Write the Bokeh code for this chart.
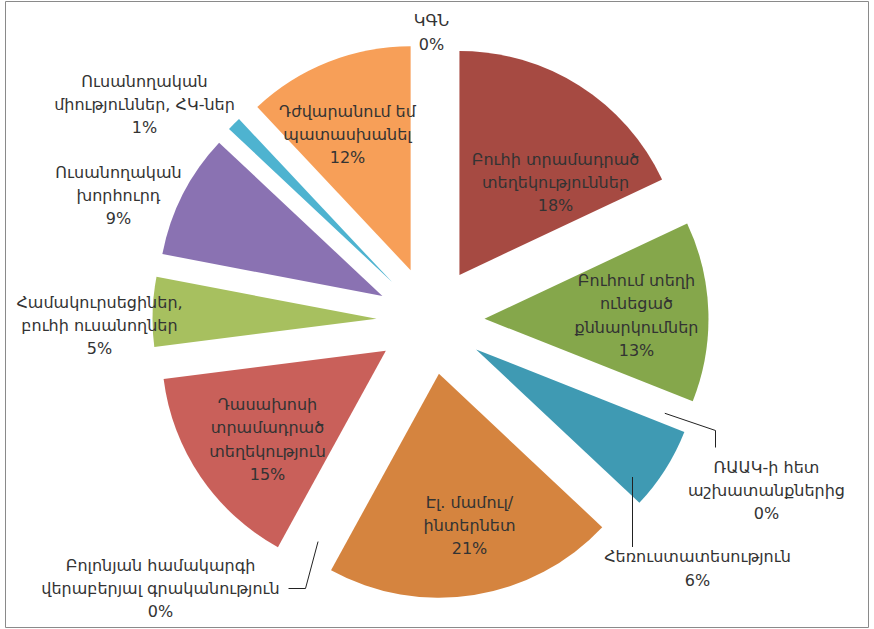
import math
from bokeh.plotting import figure
from bokeh.models import Range1d, ColumnDataSource
from bokeh.embed import file_html
from bokeh.resources import INLINE
from bokeh.core.properties import value

# ---------------- data ----------------
categories = [
    "Բուհի տրամադրած\nտեղեկություններ",
    "Բուհում տեղի\nունեցած\nքննարկումներ",
    "ՌԱԱԿ-ի հետ\nաշխատանքներից",
    "Հեռուստատեսություն",
    "Էլ. մամուլ/\nինտերնետ",
    "Բոլոնյան համակարգի\nվերաբերյալ գրականություն",
    "Դասախոսի\nտրամադրած\nտեղեկություն",
    "Համակուրսեցիներ,\nբուհի ուսանողներ",
    "Ուսանողական\nխորհուրդ",
    "Ուսանողական\nմիություններ, ՀԿ-ներ",
    "Դժվարանում եմ\nպատասխանել",
    "ԿԳՆ",
]
percents = [18, 13, 0, 6, 21, 0, 15, 5, 9, 1, 12, 0]
colors = ["#A64A42", "#85A74B", "#3F9AB3", "#3F9AB3", "#D5843F", "#C9605A",
          "#C9605A", "#A7C05F", "#8A72B2", "#4EB3D0", "#F79F58", "#F79F58"]

# ---------------- layout (page pixel coordinates, y down) ----------------
W, H = 872, 629
CX, CY = 430, 320          # pie centre
R = 224                    # radius
EXPLODE = 54               # explosion distance
# label block centres, as offsets from the pie centre
label_offsets = [(125, -138), (206, -5), (336, 170), (267, 248), (39, 205),
                 (-270, 268), (-163, 119), (-331, 5), (-312, -125),
                 (-286, -216), (-83, -186), (1, -288)]
FONT = "DejaVu Sans"
FSIZE = 16
LINE_PX = 23
LINE_H = LINE_PX / (FSIZE * 1.164)
TEXT_COLOR = "#333333"
FRAME = (5, 1, 868, 627)   # chart border


def ydata(py):
    return H - py


total = float(sum(percents))
cum = [0.0]
for v in percents:
    cum.append(cum[-1] + v / total)

# wedges
wx, wy, ws, we, wc = [], [], [], [], []
for i, v in enumerate(percents):
    if v <= 0:
        continue
    c0, c1 = cum[i], cum[i + 1]
    mid = math.pi / 2 - 2 * math.pi * (c0 + c1) / 2
    wx.append(CX + EXPLODE * math.cos(mid))
    wy.append(ydata(CY) + EXPLODE * math.sin(mid))
    ws.append(math.pi / 2 - 2 * math.pi * c0)
    we.append(math.pi / 2 - 2 * math.pi * c1)
    wc.append(colors[i])

p = figure(width=W, height=H, output_backend="svg", toolbar_location=None,
           x_range=Range1d(0, W), y_range=Range1d(0, H), min_border=0)
p.axis.visible = False
p.grid.visible = False
p.outline_line_color = None
p.background_fill_color = "white"
p.border_fill_color = "white"

# chart border
fx0, fy0, fx1, fy1 = FRAME
p.quad(left=[fx0], right=[fx1], top=[ydata(fy0)], bottom=[ydata(fy1)],
       fill_color=None, line_color="#8a8a8a", line_width=1)

p.wedge(x=wx, y=wy, radius=R, start_angle=ws, end_angle=we, direction="clock",
        fill_color=wc, line_color=None)

# labels
lx, ly, lt = [], [], []
for i, (lab, v) in enumerate(zip(categories, percents)):
    ox, oy = label_offsets[i]
    lx.append(CX + ox)
    ly.append(ydata(CY + oy))
    lt.append(f"{lab}\n{v}%")
src = ColumnDataSource(dict(x=lx, y=ly, text=lt))
p.text(x="x", y="y", text="text", source=src, text_align="center",
       text_baseline="middle", text_font=value(FONT), text_font_size=f"{FSIZE}px",
       text_color=TEXT_COLOR, text_line_height=LINE_H)


# leader lines
def first_line_y(i):
    n = categories[i].count("\n") + 2
    return CY + label_offsets[i][1] - (n - 1) * LINE_PX / 2


xs, ys = [], []
# ՌԱԱԿ (zero slice between green and teal)
i = 2
ang = 2 * math.pi * cum[i]
sx, sy = CX + 252 * math.sin(ang), CY - 252 * math.cos(ang)
ex = CX + label_offsets[i][0] - 51
ey = first_line_y(i) - 20
xs.append([sx, ex, ex])
ys.append([ydata(sy), ydata(ey - 17), ydata(ey)])
# Հեռուստատեսություն
i = 3
ex = CX + label_offsets[i][0] - 65
ey = first_line_y(i) - 10
xs.append([ex, ex])
ys.append([ydata(ey), ydata(ey - 70)])
# Բոլոնյան (zero slice between orange and red)
i = 5
ang = 2 * math.pi * cum[i]
sx, sy = CX + 250 * math.sin(ang) + 8, CY - 250 * math.cos(ang) + 2
bx = CX + label_offsets[i][0]
by = first_line_y(i) + LINE_PX
xs.append([sx, bx + 145, bx + 128])
ys.append([ydata(sy), ydata(by), ydata(by)])
p.multi_line(xs=xs, ys=ys, line_color="#222222", line_width=1)

open("out.html", "w").write(file_html(p, INLINE))
